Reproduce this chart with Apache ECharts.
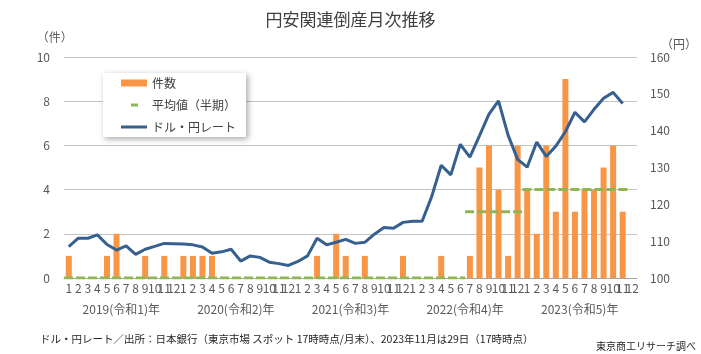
<!DOCTYPE html>
<html lang="ja">
<head>
<meta charset="utf-8">
<title>円安関連倒産月次推移</title>
<script src="https://cdn.jsdelivr.net/npm/echarts@6/dist/echarts.min.js"></script>
<style>
  html, body { margin: 0; padding: 0; background: #fff; }
  #chart { width: 701px; height: 354px; }
</style>
</head>
<body>
<div id="chart"></div>
<script>
// 年（上段ラベル）と月（下段ラベル）
const years = ['2019(令和1)年', '2020(令和2)年', '2021(令和3)年', '2022(令和4)年', '2023(令和5)年'];
const months = ['1', '2', '3', '4', '5', '6', '7', '8', '9', '10', '11', '12'];

// 件数（2019年1月〜2023年11月）
const counts = [
  1, 0, 0, 0, 1, 2, 0, 0, 1, 0, 1, 0,
  1, 1, 1, 1, 0, 0, 0, 0, 0, 0, 0, 0,
  0, 0, 1, 0, 2, 1, 0, 1, 0, 0, 0, 1,
  0, 0, 0, 1, 0, 0, 1, 5, 6, 4, 1, 6,
  4, 2, 6, 3, 9, 3, 4, 4, 5, 6, 3
];

// 平均値（半期ごと）
const halfAvg = [0, 0, 0, 0, 0, 0, 0, 3, 4, 4];

// ドル・円レート（月末）
const usdJpy = [
  108.5, 110.8, 110.8, 111.7, 109.1, 107.6, 108.7, 106.4, 107.8, 108.6, 109.4, 109.3,
  109.2, 109.0, 108.4, 106.7, 107.1, 107.8, 104.6, 106.0, 105.6, 104.3, 103.9, 103.4,
  104.5, 106.0, 110.8, 109.0, 109.7, 110.5, 109.4, 109.7, 111.9, 113.7, 113.5, 115.1,
  115.4, 115.4, 122.1, 130.6, 128.0, 136.3, 132.8, 138.6, 144.5, 148.1, 138.8, 132.2,
  130.1, 136.9, 133.0, 135.8, 139.7, 145.0, 142.4, 145.8, 148.8, 150.4, 147.4
];

// 軸目盛
const countTicks = [0, 2, 4, 6, 8, 10];
const rateTicks = [100, 110, 120, 130, 140, 150, 160];

const FONT = '"Noto Sans CJK JP", "Noto Sans", sans-serif';
const AXIS_GRAY = '#a6a6a6';
const LABEL_COLOR = '#595959';
const ORANGE = '#f79646';
const GREEN = '#8fb654';
const BLUE = '#36608f';

// 月カテゴリ
const monthLabels = [];
years.forEach(() => months.forEach(m => monthLabels.push(m)));

// 半期平均を月に展開し、同じ値が続く区間ごとに線分を作る
const avgSegments = [];
let segStart = 0;
for (let i = 1; i <= counts.length; i++) {
  const prev = halfAvg[Math.floor((i - 1) / 6)];
  const cur = i < counts.length ? halfAvg[Math.floor(i / 6)] : null;
  if (cur !== prev) {
    avgSegments.push([[segStart - 0.5, prev], [i - 0.5, prev]]);
    segStart = i;
  }
}

const avgSeries = avgSegments.map(seg => ({
  name: '平均値（半期）',
  type: 'line',
  xAxisIndex: 2,
  yAxisIndex: 0,
  data: seg,
  symbol: 'none',
  z: 3,
  itemStyle: { color: GREEN },
  lineStyle: { color: GREEN, width: 3, type: [9, 3] }
}));

// 凡例アイコン（外枠26x7の中に描く）
const ICON_LINE = 'path://M0,0 L0,0 M0,2 L26,2 L26,5 L0,5 Z M26,7 L26,7';
const ICON_DASH = 'path://M0,0 L0,0 M10,2 L17,2 L17,5 L10,5 Z M26,7 L26,7';

const chart = echarts.init(document.getElementById('chart'));

chart.setOption({
  animation: false,
  textStyle: { fontFamily: FONT },
  title: {
    text: '円安関連倒産月次推移',
    left: 'center',
    top: 6,
    textStyle: { fontSize: 17, fontWeight: 'normal', color: '#404040', fontFamily: FONT }
  },
  legend: {
    orient: 'vertical',
    left: 103,
    top: 73,
    padding: [3, 10, 3, 18],
    itemWidth: 26,
    itemHeight: 7,
    itemGap: 8,
    symbolKeepAspect: false,
    backgroundColor: '#fff',
    shadowBlur: 6,
    shadowColor: 'rgba(0,0,0,0.35)',
    shadowOffsetX: 2,
    shadowOffsetY: 2,
    textStyle: { fontSize: 12, color: '#404040', lineHeight: 14, fontFamily: FONT },
    data: [
      { name: '件数', icon: 'rect' },
      { name: '平均値（半期）', icon: ICON_DASH },
      { name: 'ドル・円レート', icon: ICON_LINE }
    ]
  },
  grid: { left: 64, right: 64, top: 57, bottom: 76, containLabel: false },
  xAxis: [
    {
      type: 'category',
      data: monthLabels,
      position: 'bottom',
      axisLine: { lineStyle: { color: AXIS_GRAY } },
      axisTick: { interval: 0, length: 18, lineStyle: { color: AXIS_GRAY } },
      axisLabel: { interval: 0, margin: 4, fontSize: 12, color: LABEL_COLOR, fontFamily: FONT }
    },
    {
      type: 'category',
      data: years,
      position: 'bottom',
      axisLine: { show: false },
      axisTick: { interval: 0, length: 41, lineStyle: { color: AXIS_GRAY } },
      axisLabel: { interval: 0, margin: 25, fontSize: 12, color: LABEL_COLOR, fontFamily: FONT }
    },
    {
      // 半期平均の線分用（非表示）
      type: 'value',
      min: -0.5,
      max: monthLabels.length - 0.5,
      show: false
    }
  ],
  yAxis: [
    {
      type: 'value',
      min: countTicks[0],
      max: countTicks[countTicks.length - 1],
      interval: countTicks[1] - countTicks[0],
      name: '（件）',
      nameLocation: 'end',
      nameGap: 14,
      nameTextStyle: { fontSize: 12, color: LABEL_COLOR, padding: [0, 28, 0, 0], fontFamily: FONT },
      axisLine: { show: false },
      axisTick: { show: false },
      axisLabel: { margin: 14, fontSize: 12, color: LABEL_COLOR, fontFamily: FONT },
      splitLine: { lineStyle: { color: '#c4c4c4' } }
    },
    {
      type: 'value',
      min: rateTicks[0],
      max: rateTicks[rateTicks.length - 1],
      interval: rateTicks[1] - rateTicks[0],
      name: '（円）',
      nameLocation: 'end',
      nameGap: 7,
      nameTextStyle: { fontSize: 12, color: LABEL_COLOR, padding: [0, 0, 0, 84], fontFamily: FONT },
      axisLine: { show: false },
      axisTick: { show: false },
      axisLabel: { margin: 13, fontSize: 12, color: LABEL_COLOR, fontFamily: FONT },
      splitLine: { show: false }
    }
  ],
  series: [
    {
      name: '件数',
      type: 'bar',
      xAxisIndex: 0,
      yAxisIndex: 0,
      data: counts,
      barWidth: 6,
      z: 2,
      itemStyle: { color: ORANGE }
    },
    ...avgSeries,
    {
      name: 'ドル・円レート',
      type: 'line',
      xAxisIndex: 0,
      yAxisIndex: 1,
      data: usdJpy,
      symbol: 'none',
      z: 4,
      itemStyle: { color: BLUE },
      lineStyle: { color: BLUE, width: 3 }
    }
  ],
  graphic: [
    {
      type: 'text',
      left: 40,
      top: 334,
      style: {
        text: 'ドル・円レート／出所：日本銀行（東京市場 スポット 17時時点/月末）、2023年11月は29日（17時時点）',
        fontSize: 10.5,
        fill: '#262626',
        fontFamily: FONT
      }
    },
    {
      type: 'text',
      right: 5,
      top: 341,
      style: {
        text: '東京商工リサーチ調べ',
        fontSize: 10,
        fill: '#262626',
        fontFamily: FONT
      }
    }
  ]
});
</script>
</body>
</html>
